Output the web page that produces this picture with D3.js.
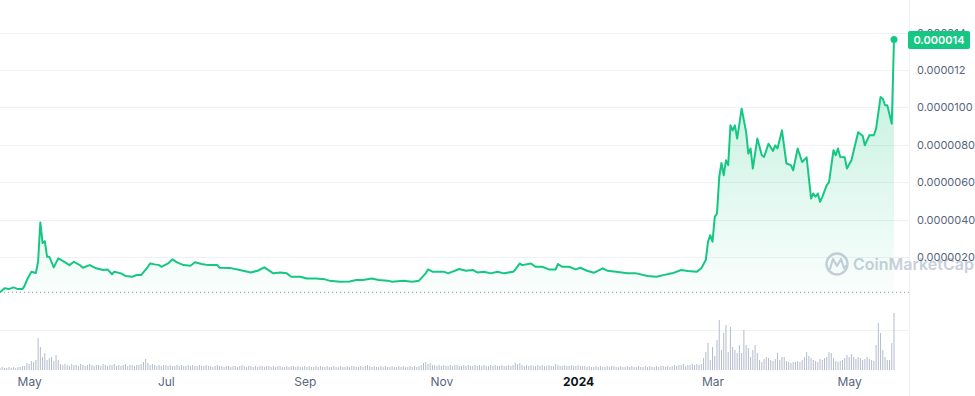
<!DOCTYPE html>
<html>
<head>
<meta charset="utf-8">
<script src="https://cdn.jsdelivr.net/npm/d3@7"></script>
<style>
  body { margin: 0; background: #fff; }
  svg { display: block; font-family: Inter, "Noto Sans", sans-serif; }
</style>
</head>
<body>
<svg class="svg_price" width="975" height="396"></svg>
<script>
// price history (values in units of 0.000001)
var startDate = new Date(Date.UTC(2023, 3, 18));
var unit = 1e-6;

var priceDays = [0,2,4,6,8,10,11,12,14,16,17,18,19,20,21,22,24,26,28,31,33,36,37,40,43,46,48,50,51,54,56,59,61,63,66,67,69,71,72,75,77,79,82,85,87,90,93,97,98,103,
  107,112,115,118,122,125,128,130,134,137,141,145,147,152,156,159,162,166,169,173,175,180,184,187,190,191,193,198,200,205,
  208,211,213,216,219,222,225,229,230,232,233,237,239,242,245,248,249,251,254,257,259,262,265,269,271,275,280,284,289,293,298,300,304,307,
  311,313,315,316,317,318,319,320,321,322,323,324,325,326,327,328,329,331,333,334,335,336,338,340,341,343,345,346,347,349,351,353,354,356,358,360,
  362,363,364,365,366,367,369,370,372,373,374,375,377,378,380,383,385,386,388,390,391,393,394,395,396,398,399];

var prices = [0.12,0.33,0.29,0.38,0.29,0.29,0.47,0.77,1.22,1.15,1.75,3.85,2.75,2.85,2.02,2.02,1.45,1.93,1.80,1.57,1.75,1.54,1.43,1.57,1.40,1.31,1.34,1.08,1.22,1.13,0.99,0.95,1.04,1.04,1.48,1.66,1.61,1.57,1.48,1.66,1.88,1.72,1.57,1.54,1.72,1.63,1.57,1.57,1.43,1.41,
  1.31,1.18,1.27,1.45,1.13,1.18,1.13,0.95,0.95,0.86,0.86,0.81,0.74,0.68,0.70,0.77,0.77,0.86,0.77,0.74,0.68,0.74,0.68,0.74,1.13,1.34,1.22,1.22,1.13,1.36,
  1.27,1.31,1.18,1.22,1.13,1.22,1.13,1.22,1.34,1.66,1.57,1.66,1.48,1.48,1.34,1.34,1.63,1.48,1.48,1.34,1.43,1.27,1.16,1.40,1.27,1.22,1.13,1.13,0.99,0.95,1.09,1.13,1.31,1.25,
  1.22,1.40,1.84,2.82,3.17,2.82,4.15,4.33,6.28,7.03,6.37,7.17,6.91,9.04,8.77,9.04,8.33,9.93,8.68,7.53,7.80,6.73,8.33,7.44,7.35,8.06,7.67,7.97,7.80,8.77,7.00,6.91,6.64,7.80,7.08,7.33,
  5.13,5.40,5.22,5.40,4.95,5.22,5.84,6.00,7.71,7.44,7.80,7.35,7.33,6.73,7.17,8.67,8.48,7.97,8.51,8.51,8.86,10.55,10.46,10.11,10.11,9.13,13.63];

// daily volume (relative), one per day from startDate
var volumes = [2,3,2,2,3,2,3,2,3,3,4,
  4,7,6,9,8,10,
  32,23,13,17,10,12,13,9,15,10,
  6,5,6,5,4,6,5,5,4,6,5,4,5,6,5,4,5,5,4,6,5,4,5,5,6,4,5,4,5,6,4,5,5,4,
  5,5,6,8,11,7,5,6,5,4,
  5,4,5,5,4,5,4,4,5,4,5,4,4,5,4,5,4,4,5,4,4,5,4,4,3,4,5,4,4,3,
  4,4,3,4,4,3,4,5,4,3,4,4,3,4,3,4,4,3,4,4,3,4,3,4,4,3,3,4,3,4,4,3,4,3,3,4,3,4,3,3,4,3,4,3,3,4,3,3,4,3,
  3,4,3,3,4,3,4,4,3,3,4,3,4,5,4,3,4,3,3,4,3,4,3,3,4,3,3,4,3,4,3,3,4,3,4,3,4,5,
  7,8,6,7,5,
  5,4,5,4,5,4,4,5,4,5,5,4,4,5,4,5,4,4,5,4,5,4,5,4,4,5,4,5,4,4,5,4,4,5,4,5,
  7,6,7,
  5,4,5,4,5,4,4,5,4,5,4,4,5,4,4,6,5,4,4,5,4,4,5,4,4,5,4,4,
  4,3,4,3,3,4,3,4,3,3,4,3,4,4,3,3,4,3,3,4,3,4,3,3,4,3,3,4,3,4,3,3,4,3,4,4,3,4,3,4,
  5,4,5,5,6,4,5,5,6,5,6,5,
  6,12,18,27,10,23,14,30,50,20,37,45,18,43,23,20,17,25,17,40,25,22,13,20,25,17,10,8,11,13,12,10,9,11,17,10,13,13,9,8,
  7,8,8,9,8,10,13,18,14,12,10,9,8,11,10,12,13,18,17,12,9,8,9,10,12,15,13,16,13,11,13,12,10,11,13,11,10,9,25,47,37,20,13,10,10,27,57];

var yTicks = [2, 4, 6, 8, 10, 12, 14];
var yLabels = ["0.0000020", "0.0000040", "0.0000060", "0.0000080", "0.0000100", "0.000012", "0.000014"];
var xTicks = [new Date(Date.UTC(2023,4,1)), new Date(Date.UTC(2023,6,1)), new Date(Date.UTC(2023,8,1)),
  new Date(Date.UTC(2023,10,1)), new Date(Date.UTC(2024,0,1)), new Date(Date.UTC(2024,2,1)), new Date(Date.UTC(2024,4,1))];
var xLabels = ["May", "Jul", "Sep", "Nov", "2024", "Mar", "May"];
var badgeText = "0.000014";

function drawChart() {
    var svg = d3.select(".svg_price");
    var green = "#16c784";

    var dayToDate = function(d) { return d3.utcDay.offset(startDate, d); };
    var data = priceDays.map(function(d, i) { return {date: dayToDate(d), v: prices[i] * unit}; });

    var x = d3.scaleUtc().domain([startDate, dayToDate(399)]).range([0, 894]);
    var y = d3.scaleLinear().domain([0, 14 * unit]).range([294.5, 32.5]);
    var yv = d3.scaleLinear().domain([0, 57]).range([370, 313]);

    // gradient for the area under the line
    var grad = svg.append("defs").append("linearGradient")
        .attr("id", "fillGrad")
        .attr("gradientUnits", "userSpaceOnUse")
        .attr("x1", 0).attr("x2", 0)
        .attr("y1", 32).attr("y2", 292);
    grad.append("stop").attr("offset", "0%").attr("stop-color", green).attr("stop-opacity", 0.3);
    grad.append("stop").attr("offset", "100%").attr("stop-color", green).attr("stop-opacity", 0.02);

    // grid lines
    svg.append("g").selectAll("line")
        .data(yTicks)
        .enter().append("line")
        .attr("x1", 0).attr("x2", 909)
        .attr("y1", function(d) { return Math.round(y(d * unit)) + 0.5; })
        .attr("y2", function(d) { return Math.round(y(d * unit)) + 0.5; })
        .attr("stroke", "#eff2f5");

    // volume grid line + right border
    svg.append("line").attr("x1", 0).attr("x2", 909).attr("y1", 330.5).attr("y2", 330.5).attr("stroke", "#eff2f5");
    svg.append("line").attr("x1", 909.5).attr("x2", 909.5).attr("y1", 0).attr("y2", 396).attr("stroke", "#eff2f5");

    // watermark
    var wm = svg.append("g").attr("fill", "none").attr("stroke", "#c9cfda");
    wm.append("circle").attr("cx", 837).attr("cy", 264).attr("r", 10.5).attr("stroke-width", 2.4);
    wm.append("path")
        .attr("d", "M830,269 L833,259 L837,266 L841,259 L844,268 L846,266")
        .attr("stroke-width", 2.2).attr("stroke-linejoin", "round").attr("stroke-linecap", "round");
    svg.append("text")
        .attr("x", 853).attr("y", 270)
        .attr("fill", "#c9cfda")
        .style("font-size", "16px").style("font-weight", 600)
        .text("CoinMarketCap");

    // volume bars
    svg.append("g").selectAll("rect")
        .data(volumes)
        .enter().append("rect")
        .attr("x", function(d, i) { return x(dayToDate(i)) - 0.5; })
        .attr("y", function(d) { return yv(d); })
        .attr("width", 1)
        .attr("height", function(d) { return 370 - yv(d); })
        .attr("fill", "#b3bccb");

    // dotted reference line at the opening price
    svg.append("line")
        .attr("x1", 0).attr("x2", 909)
        .attr("y1", y(data[0].v)).attr("y2", y(data[0].v))
        .attr("stroke", "#8a93a3")
        .attr("stroke-width", 1)
        .attr("stroke-dasharray", "1,3");

    var area = d3.area()
        .x(function(d) { return x(d.date); })
        .y0(y(0))
        .y1(function(d) { return y(d.v); });
    var line = d3.line()
        .x(function(d) { return x(d.date); })
        .y(function(d) { return y(d.v); });

    svg.append("path").datum(data).attr("d", area).attr("fill", "url(#fillGrad)");
    svg.append("path").datum(data)
        .attr("d", line)
        .attr("fill", "none")
        .attr("stroke", green)
        .attr("stroke-width", 2)
        .attr("stroke-linejoin", "round");

    var last = data[data.length - 1];
    svg.append("circle").attr("cx", x(last.date)).attr("cy", y(last.v)).attr("r", 3.5).attr("fill", green);

    // y axis on the right
    var yAxis = d3.axisRight(y)
        .tickValues(yTicks.map(function(d) { return d * unit; }))
        .tickFormat(function(d, i) { return yLabels[i]; })
        .tickSize(0).tickPadding(0);
    var yg = svg.append("g").attr("transform", "translate(917,0)").call(yAxis);
    yg.select(".domain").remove();
    yg.selectAll("text").attr("fill", "#58667e").style("font-size", "11px").style("font-family", "Inter, sans-serif");

    // current price badge
    svg.append("rect").attr("x", 908).attr("y", 31).attr("width", 62).attr("height", 18).attr("rx", 2).attr("fill", green);
    svg.append("text")
        .attr("x", 939).attr("y", 40)
        .attr("text-anchor", "middle").attr("dominant-baseline", "central")
        .attr("fill", "#fff")
        .style("font-size", "11px").style("font-weight", 600)
        .text(badgeText);

    // x axis
    var xAxis = d3.axisBottom(x)
        .tickValues(xTicks)
        .tickFormat(function(d, i) { return xLabels[i]; })
        .tickSize(0).tickPadding(0);
    var xg = svg.append("g").attr("transform", "translate(0,377)").call(xAxis);
    xg.select(".domain").remove();
    xg.selectAll("text")
        .attr("fill", function(d, i) { return xLabels[i] === "2024" ? "#0d1421" : "#58667e"; })
        .style("font-weight", function(d, i) { return xLabels[i] === "2024" ? 700 : 400; })
        .style("font-size", "12px").style("font-family", "Inter, sans-serif");
}

drawChart();
</script>
</body>
</html>
